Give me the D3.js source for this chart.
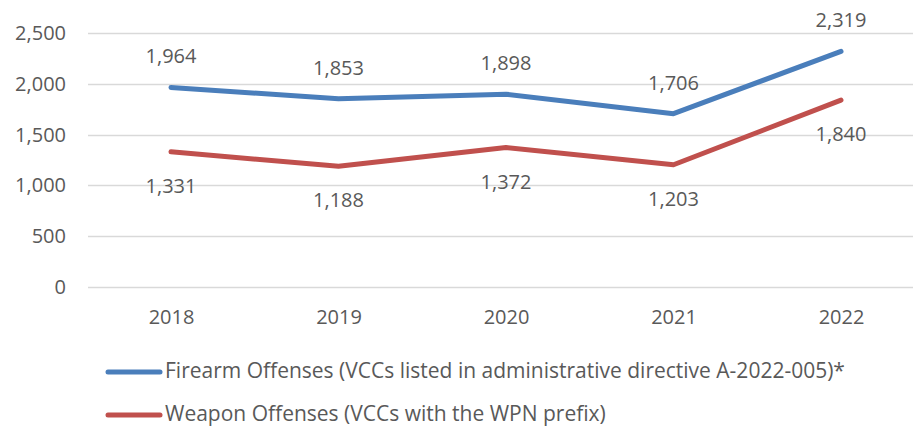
<!DOCTYPE html>
<html>
<head>
<meta charset="utf-8">
<script src="https://cdn.jsdelivr.net/npm/d3@7"></script>
<style>
  body { margin: 0; background: #fff; }
  text { font-family: "Open Sans", "Liberation Sans", Arial, sans-serif; fill: #595959; }
</style>
</head>
<body>
<div id="chart"></div>
<script>
    // datos
    var years = ["2018", "2019", "2020", "2021", "2022"];
    var firearm = [1964, 1853, 1898, 1706, 2319];
    var weapon = [1331, 1188, 1372, 1203, 1840];
    var yTicks = [0, 500, 1000, 1500, 2000, 2500];
    var seriesNames = [
      "Firearm Offenses (VCCs listed in administrative directive A-2022-005)*",
      "Weapon Offenses (VCCs with the WPN prefix)"
    ];
    var colors = ["#4a7ebb", "#c0504d"];

    var width = 913, height = 427;

    var svg = d3.select("#chart")
      .append("svg")
        .attr("width", width)
        .attr("height", height);

    // escalas
    var x = d3.scalePoint()
      .domain(years)
      .range([171, 841]);

    var y = d3.scaleLinear()
      .domain([0, 2500])
      .range([287, 33]);

    // lineas de cuadricula
    svg.append("g")
      .selectAll("line")
      .data(yTicks)
      .enter().append("line")
        .attr("x1", 88)
        .attr("x2", 926)
        .attr("y1", function(d) { return Math.round(y(d)) + 0.5; })
        .attr("y2", function(d) { return Math.round(y(d)) + 0.5; })
        .attr("stroke", "#d9d9d9")
        .attr("stroke-width", 1.3);

    // eje y
    var yAxis = svg.append("g")
      .attr("transform", "translate(66,0)")
      .call(d3.axisLeft(y).tickValues(yTicks).tickSize(0).tickPadding(0).tickFormat(d3.format(",")));
    yAxis.select(".domain").remove();
    yAxis.selectAll("text")
      .style("font-size", "20px")
      .attr("fill", "#595959");

    // eje x
    var xAxis = svg.append("g")
      .attr("transform", "translate(0,310)")
      .call(d3.axisBottom(x).tickSize(0).tickPadding(0));
    xAxis.select(".domain").remove();
    xAxis.selectAll("text")
      .style("font-size", "20px")
      .attr("fill", "#595959");

    var line = d3.line()
      .x(function(d, i) { return x(years[i]); })
      .y(function(d) { return y(d); });

    var series = [firearm, weapon];
    var offsets = [-24, 41];

    series.forEach(function(s, k) {
      svg.append("path")
        .datum(s)
        .attr("fill", "none")
        .attr("stroke", colors[k])
        .attr("stroke-width", 5)
        .attr("stroke-linecap", "round")
        .attr("stroke-linejoin", "round")
        .attr("d", line);

      svg.append("g")
        .selectAll("text")
        .data(s)
        .enter().append("text")
          .attr("x", function(d, i) { return x(years[i]); })
          .attr("y", function(d) { return y(d) + offsets[k]; })
          .attr("text-anchor", "middle")
          .style("font-size", "20px")
          .text(function(d) { return d3.format(",")(d); });
    });

    // leyenda
    var legend = svg.append("g");
    seriesNames.forEach(function(name, k) {
      var ly = 372 + k * 43;
      legend.append("line")
        .attr("x1", 108).attr("x2", 160)
        .attr("y1", ly).attr("y2", ly)
        .attr("stroke", colors[k])
        .attr("stroke-width", 5)
        .attr("stroke-linecap", "round");
      legend.append("text")
        .attr("x", 165)
        .attr("y", ly + 6)
        .style("font-size", "21px")
        .text(name);
    });
</script>
</body>
</html>
